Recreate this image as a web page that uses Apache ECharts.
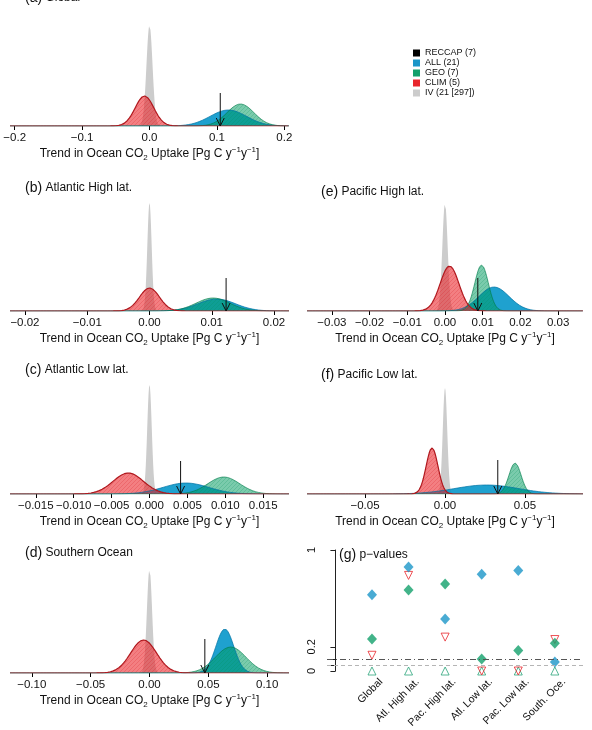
<!DOCTYPE html>
<html>
<head>
<meta charset="utf-8">
<script src="https://cdn.jsdelivr.net/npm/echarts@6/dist/echarts.min.js"></script>
<style>
  html, body { margin: 0; padding: 0; background: #fff; }
  #chart { width: 592px; height: 730px; }
</style>
</head>
<body>
<div id="chart"></div>
<script>
// panels in order a, b, c, d (left column) then e, f (right column)
const panelTags = ['(a)', '(b)', '(c)', '(d)', '(e)', '(f)'];
const panelNames = ['Global', 'Atlantic High lat.', 'Atlantic Low lat.', 'Southern Ocean', 'Pacific High lat.', 'Pacific Low lat.'];
const xHalfRange = [0.207, 0.0224, 0.0184, 0.1185, 0.0366, 0.0863];
const xTicks = [
  [-0.2, -0.1, 0, 0.1, 0.2],
  [-0.02, -0.01, 0, 0.01, 0.02],
  [-0.015, -0.01, -0.005, 0, 0.005, 0.01, 0.015],
  [-0.1, -0.05, 0, 0.05, 0.1],
  [-0.03, -0.02, -0.01, 0, 0.01, 0.02, 0.03],
  [-0.05, 0, 0.05]
];
const tickDecimals = [1, 2, 3, 2, 2, 2];

// fitted distributions: [mean, sd, peak height]
const ivDist   = [[0, 0.0045, 101], [0, 0.00035, 108], [0, 0.0003, 109], [0, 0.0022, 104], [0, 0.0007, 108], [0, 0.0014, 106]];
const allDist  = [[0.117, 0.027, 16], [0.0108, 0.003, 12], [0.0048, 0.003, 11], [0.064, 0.0076, 44], [0.013, 0.004, 24], [0.026, 0.02, 9]];
const geoDist  = [[0.135, 0.02, 22], [0.0102, 0.0027, 13], [0.0098, 0.0021, 17], [0.069, 0.013, 26], [0.0097, 0.0018, 46], [0.0438, 0.0038, 31]];
const climDist = [[-0.0074, 0.0138, 30], [0, 0.0016, 23], [-0.0028, 0.002, 21], [-0.005, 0.011, 33], [0.0012, 0.0025, 45], [-0.0081, 0.0037, 46]];
// RECCAP estimate: [trend, arrow top]
const reccap = [[0.105, 33], [0.0123, 33], [0.0041, 33], [0.047, 34], [0.0087, 33], [0.033, 34]];

// panel (g) p-values
const regions = ['Global', 'Atl. High lat.', 'Pac. High lat.', 'Atl. Low lat.', 'Pac. Low lat.', 'South. Oce.'];
const pAll  = [0.63, 0.86, 0.43, 0.80, 0.83, 0.074];
const pGeo  = [0.264, 0.67, 0.72, 0.10, 0.17, 0.23];
const pClim = [0.13, 0.79, 0.28, 0, 0, 0.26];
const pRef  = [0, 0, 0, 0, 0, 0];

const FONT = 'Liberation Sans, Arial, Helvetica, sans-serif';
const gridLeft = [10, 10, 10, 10, 307, 307];
const gridWidth = [279, 279, 279, 279, 276, 276];
const baseline = [126, 311, 494, 673, 311, 494];
const titlePos = [[25, -10], [25, 180], [25, 362], [25, 545], [321, 184], [321, 367]];

function hatch(fill, stroke) {
  const c = document.createElement('canvas');
  c.width = 4; c.height = 4;
  const g = c.getContext('2d');
  g.fillStyle = fill;
  g.fillRect(0, 0, 4, 4);
  g.strokeStyle = stroke;
  g.lineWidth = 1;
  g.beginPath();
  g.moveTo(0, 4); g.lineTo(4, 0);
  g.moveTo(-1, 1); g.lineTo(1, -1);
  g.moveTo(3, 5); g.lineTo(5, 3);
  g.stroke();
  return { image: c, repeat: 'repeat' };
}
const greenFill = hatch('rgba(0,155,95,0.52)', 'rgba(0,140,85,0.22)');
const redFill = hatch('rgba(235,35,40,0.58)', 'rgba(215,25,30,0.22)');

// gaussian shape of a fitted distribution over the panel range
function curve(d, R) {
  const pts = [];
  const n = 600;
  for (let i = 0; i <= n; i++) {
    const x = -R + 2 * R * i / n;
    pts.push([x, d[2] * Math.exp(-0.5 * Math.pow((x - d[0]) / d[1], 2))]);
  }
  return pts;
}

function fmtTick(v, dec) {
  return (v < 0 ? '\u2212' : '') + Math.abs(v).toFixed(dec);
}

const axisTitle = '{t|Trend in Ocean CO}{s|2}{t| Uptake [Pg C y}{p|\u22121}{t|y}{p|\u22121}{t|]}';
const axisTitleRich = {
  t: { fontSize: 12, lineHeight: 16, fontFamily: FONT, color: '#111' },
  s: { fontSize: 8, lineHeight: 8, verticalAlign: 'bottom', fontFamily: FONT, color: '#111' },
  p: { fontSize: 8, lineHeight: 8, verticalAlign: 'top', fontFamily: FONT, color: '#111' }
};
const titleRich = {
  tag: { fontSize: 14, lineHeight: 16, fontWeight: 'normal', fontFamily: FONT, color: '#111' },
  nm: { fontSize: 12, lineHeight: 16, fontWeight: 'normal', fontFamily: FONT, color: '#111' }
};

const grid = [], xAxis = [], yAxis = [], series = [], title = [];

for (let i = 0; i < 6; i++) {
  const R = xHalfRange[i];
  grid.push({ left: gridLeft[i], top: baseline[i] - 110, width: gridWidth[i], height: 110 });
  xAxis.push({
    type: 'value', gridIndex: i, min: -R, max: R,
    axisLine: { show: false },
    splitLine: { show: false },
    axisTick: { show: true, customValues: xTicks[i], length: 4, lineStyle: { color: '#000' } },
    axisLabel: {
      customValues: xTicks[i], margin: 6, fontSize: 11.5, fontFamily: FONT, color: '#111',
      formatter: v => fmtTick(v, tickDecimals[i])
    },
    name: axisTitle, nameLocation: 'middle', nameGap: 20, nameMoveOverlap: false,
    nameTextStyle: { rich: axisTitleRich }
  });
  yAxis.push({ type: 'value', gridIndex: i, min: 0, max: 110, show: false });
  title.push({
    text: '{tag|' + panelTags[i] + '}{nm| ' + panelNames[i] + '}',
    left: titlePos[i][0], top: titlePos[i][1], padding: 0,
    textStyle: { fontWeight: 'normal', rich: titleRich }
  });

  const common = { type: 'line', xAxisIndex: i, yAxisIndex: i, showSymbol: false, symbol: 'none', silent: true, animation: false };
  series.push(Object.assign({}, common, {
    name: 'IV (21 [297])', data: curve(ivDist[i], R),
    lineStyle: { width: 0 }, areaStyle: { color: '#cccccc', opacity: 1 }
  }));
  series.push(Object.assign({}, common, {
    name: 'ALL (21)', data: curve(allDist[i], R),
    lineStyle: { width: 0.8, color: 'rgba(0,115,165,0.9)' }, areaStyle: { color: 'rgba(0,148,200,0.88)', opacity: 1 }
  }));
  series.push(Object.assign({}, common, {
    name: 'GEO (7)', data: curve(geoDist[i], R),
    lineStyle: { width: 0.8, color: 'rgba(0,125,75,0.8)' }, areaStyle: { color: greenFill, opacity: 1 }
  }));
  series.push(Object.assign({}, common, {
    name: 'CLIM (5)', data: curve(climDist[i], R),
    lineStyle: { width: 1.2, color: '#b0181e' }, areaStyle: { color: redFill, opacity: 1 }
  }));
  series.push({
    type: 'custom', name: 'RECCAP (7)', xAxisIndex: i, yAxisIndex: i, silent: true, animation: false, z: 5,
    data: [reccap[i]],
    renderItem: (params, api) => {
      const top = api.coord([api.value(0), api.value(1)]);
      const bot = api.coord([api.value(0), 0]);
      return {
        type: 'group', children: [
          { type: 'line', shape: { x1: top[0], y1: top[1], x2: bot[0], y2: bot[1] }, style: { stroke: '#111', lineWidth: 1 } },
          { type: 'polyline', shape: { points: [[bot[0] - 4, bot[1] - 8], [bot[0], bot[1]], [bot[0] + 4, bot[1] - 8]] }, style: { stroke: '#111', lineWidth: 1, fill: null } }
        ]
      };
    }
  });
}

// panel (g)
grid.push({ left: 327, top: 550, width: 256, height: 121 });
xAxis.push({ type: 'value', gridIndex: 6, min: -0.23, max: 6.77, show: false });
yAxis.push({
  type: 'value', gridIndex: 6, min: 0, max: 1, offset: 3,
  axisLine: { show: true, lineStyle: { color: '#222' } },
  splitLine: { show: false },
  axisTick: { show: true, customValues: [0, 0.05, 0.1, 0.2, 1], length: 5, lineStyle: { color: '#222' } },
  axisLabel: { customValues: [0, 0.2, 1], rotate: 90, margin: 7, fontSize: 11, fontFamily: FONT, color: '#111' }
});
grid.push({ left: 362.7, top: 671, width: 219.6, height: 1 });
xAxis.push({
  type: 'category', gridIndex: 7, data: regions,
  axisLine: { show: false }, axisTick: { show: false },
  axisLabel: { interval: 0, rotate: 45, margin: 9, fontSize: 10.5, fontFamily: FONT, color: '#111' }
});
yAxis.push({ type: 'value', gridIndex: 7, show: false });
title.push({
  text: '{tag|(g)}{nm| p\u2212values}', left: 339, top: 547, padding: 0,
  textStyle: { fontWeight: 'normal', rich: titleRich }
});

const scatterCommon = { type: 'scatter', xAxisIndex: 6, yAxisIndex: 6, clip: false, silent: true, animation: false };
series.push(Object.assign({}, scatterCommon, {
  data: pRef.map((v, k) => [k + 1, v]), symbol: 'triangle', symbolSize: 8,
  itemStyle: { color: 'rgba(255,255,255,0)', borderColor: '#2aa57a', borderWidth: 1 },
  markLine: {
    silent: true, symbol: 'none', label: { show: false },
    data: [
      { yAxis: 0.1, lineStyle: { type: [6, 3, 1, 3], color: '#555', width: 1 } },
      { yAxis: 0.05, lineStyle: { type: [4, 3], color: '#b5b5b5', width: 1 } }
    ]
  }
}));
series.push(Object.assign({}, scatterCommon, {
  data: pClim.map((v, k) => [k + 1, v]), symbol: 'triangle', symbolRotate: 180, symbolSize: 8,
  itemStyle: { color: 'rgba(255,255,255,0)', borderColor: '#e8262c', borderWidth: 1 }
}));
series.push(Object.assign({}, scatterCommon, {
  data: pGeo.map((v, k) => [k + 1, v]), symbol: 'diamond', symbolSize: [10, 11],
  itemStyle: { color: '#13a06c' }
}));
series.push(Object.assign({}, scatterCommon, {
  data: pAll.map((v, k) => [k + 1, v]), symbol: 'diamond', symbolSize: [10, 11],
  itemStyle: { color: '#1b96c8' }
}));

const option = {
  backgroundColor: '#fff',
  animation: false,
  title,
  legend: {
    orient: 'vertical', left: 413, top: 48, padding: 0,
    itemWidth: 7, itemHeight: 7, itemGap: 0, selectedMode: false,
    textStyle: { fontSize: 9, lineHeight: 10, fontFamily: FONT, color: '#111' },
    data: [
      { name: 'RECCAP (7)', icon: 'rect', itemStyle: { color: '#000' } },
      { name: 'ALL (21)', icon: 'rect', itemStyle: { color: '#1b96c8' } },
      { name: 'GEO (7)', icon: 'rect', itemStyle: { color: '#13a06c' } },
      { name: 'CLIM (5)', icon: 'rect', itemStyle: { color: '#e8262c' } },
      { name: 'IV (21 [297])', icon: 'rect', itemStyle: { color: '#cccccc' } }
    ]
  },
  grid, xAxis, yAxis, series
};

const chart = echarts.init(document.getElementById('chart'), null, { renderer: 'canvas' });
chart.setOption(option);
</script>
</body>
</html>
